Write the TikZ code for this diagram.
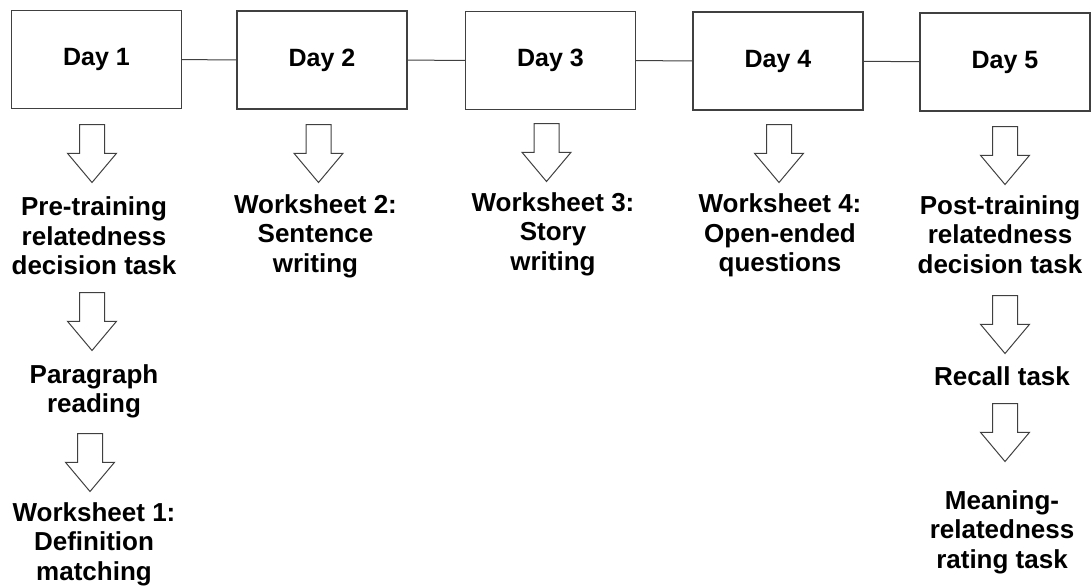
\documentclass[tikz,border=0pt]{standalone}
\usepackage{fontspec}
\setmainfont{Liberation Sans}
\usetikzlibrary{shapes.arrows}

\tikzset{
  daybox/.style={draw=black!75, line width=1.2pt, minimum width=170pt, minimum height=98pt,
    font=\fontsize{25}{30}\selectfont\bfseries},
  steptext/.style={align=center, inner sep=0pt, anchor=base,
    font=\fontsize{26}{29.5}\selectfont\bfseries},
  downarrow/.style={draw=black!75, line width=1pt, single arrow, shape border rotate=270,
    minimum height=58pt, minimum width=48pt, inner sep=12pt, anchor=tail,
    single arrow head extend=12pt, single arrow tip angle=80},
}

\begin{document}
\begin{tikzpicture}[x=1pt,y=-1pt]
\useasboundingbox (0,0) rectangle (1091,587);

% the five days
\node[daybox] (day1) at (96.5,59.5) {Day 1};
\node[daybox] (day2) at (322,60) {Day 2};
\node[daybox] (day3) at (550.5,60.5) {Day 3};
\node[daybox] (day4) at (778,61) {Day 4};
\node[daybox] (day5) at (1005,62) {Day 5};
\draw[black!75, line width=1pt] (day1) -- (day2);
\draw[black!75, line width=1pt] (day2) -- (day3);
\draw[black!75, line width=1pt] (day3) -- (day4);
\draw[black!75, line width=1pt] (day4) -- (day5);

% Day 1 (arrows hang from their tail, text sits on its last line)
\node[downarrow] (a11) at (92,124) {};
\node[steptext] (pre) at (94,274.5) {Pre-training\\relatedness\\decision task};
\node[downarrow] (a12) at (92,292) {};
\node[steptext] (par) at (94,412.5) {Paragraph\\reading};
\node[downarrow] (a13) at (90,433) {};
\node[steptext] (ws1) at (94,580) {Worksheet 1:\\Definition\\matching};

% Day 2, 3, 4
\node[downarrow] (a21) at (318.5,124) {};
\node[steptext] (ws2) at (315.5,272) {Worksheet 2:\\Sentence\\writing};
\node[downarrow] (a31) at (546.5,123) {};
\node[steptext] (ws3) at (553,270) {Worksheet 3:\\Story\\writing};
\node[downarrow] (a41) at (779,124) {};
\node[steptext] (ws4) at (780,271.5) {Worksheet 4:\\Open-ended\\questions};

% Day 5
\node[downarrow] (a51) at (1005,126) {};
\node[steptext] (post) at (1000,273) {Post-training\\relatedness\\decision task};
\node[downarrow] (a52) at (1005,295) {};
\node[steptext] (rec) at (1002,385) {Recall task};
\node[downarrow] (a53) at (1005,403) {};
\node[steptext] (mean) at (1002,568) {Meaning-\\relatedness\\rating task};
\end{tikzpicture}
\end{document}
